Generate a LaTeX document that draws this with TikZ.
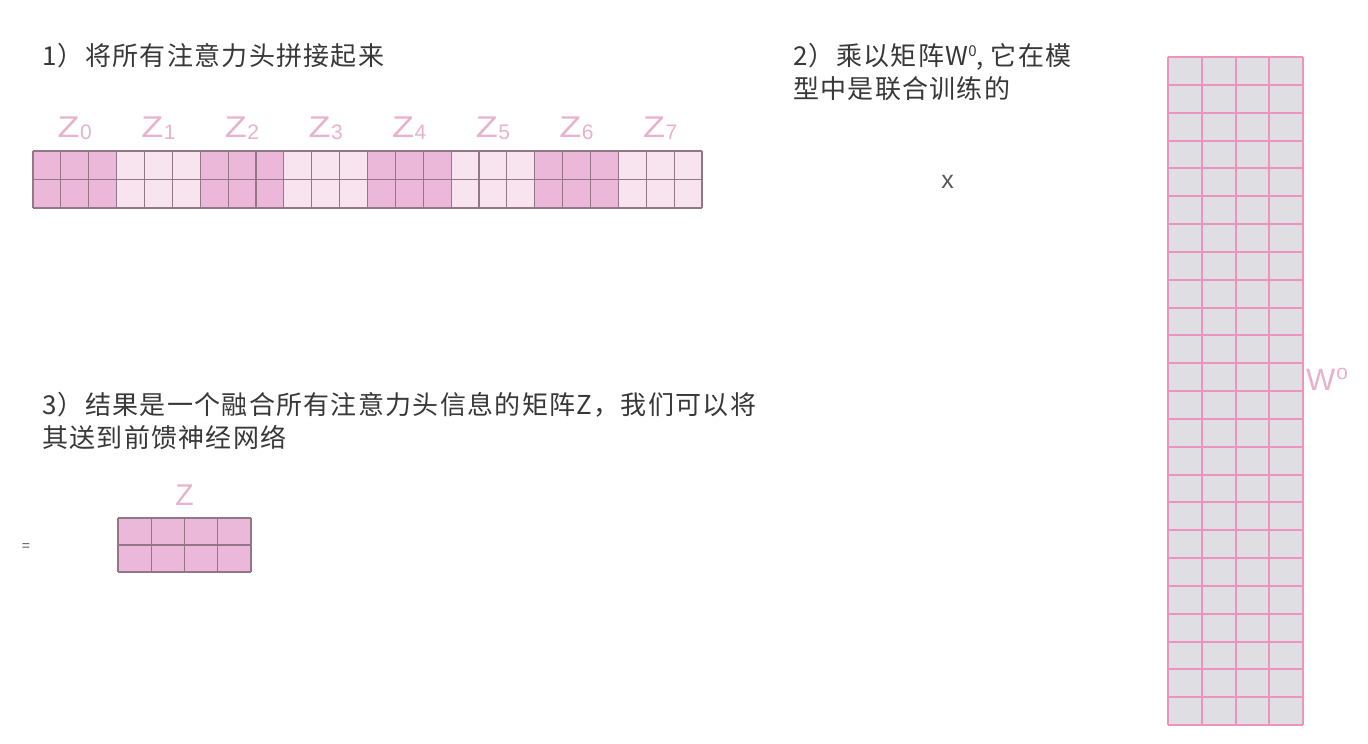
\documentclass[tikz,border=0pt]{standalone}
\usepackage{fontspec}
\setmainfont{Noto Sans CJK SC}
\newfontfamily\cjkfont[LetterSpace=5]{Noto Sans CJK SC}
\newfontfamily\latinfont{Liberation Sans}
\definecolor{zdark}{HTML}{ECB8D9}
\definecolor{zlight}{HTML}{F8E4EF}
\definecolor{zline}{HTML}{937786}
\definecolor{wcell}{HTML}{DFDFE3}
\definecolor{wline}{HTML}{EC93C0}
\definecolor{labpink}{HTML}{E8B1CD}
\definecolor{txtgray}{HTML}{383838}
\tikzset{
  caption/.style={anchor=base west, inner sep=0pt, text=txtgray, align=left,
    font=\cjkfont\fontsize{26}{32.5}\selectfont},
  zlabel/.style={anchor=base, inner sep=0pt, text=labpink,
    font=\latinfont\fontsize{30}{30}\selectfont},
  cellline/.style={draw=zline, line width=1.1pt},
  wgrid/.style={draw=wline, line width=2pt},
  opsign/.style={inner sep=0pt, text=black!65, font=\latinfont}
}
\newcommand{\zsub}[1]{\scalebox{1.2}[1]{Z}\kern0.5pt\raisebox{-2pt}{\fontsize{21}{21}\selectfont #1}}
\begin{document}
\begin{tikzpicture}[x=1pt,y=-1pt]
\useasboundingbox (0,0) rectangle (1368,744);
\fill[white] (0,0) rectangle (1368,744);

% captions (base anchor = baseline of the last line)
\node[caption] (c1) at (42,65) {1）将所有注意力头拼接起来};
\node[caption] (c2) at (793,98) {2）乘以矩阵W\raisebox{9pt}{\fontsize{15}{15}\selectfont 0}, 它在模\\型中是联合训练的};
\node[caption] (c3) at (42,447) {3）结果是一个融合所有注意力头信息的矩阵Z，我们可以将\\其送到前馈神经网络};

% concatenated heads: 24 columns x 2 rows
\foreach \i in {0,...,23}{
  \pgfmathtruncatemacro{\grp}{mod(int(\i/3),2)}
  \ifnum\grp=0\relax
    \fill[zdark] ({33+\i*27.875},151) rectangle ({33+(\i+1)*27.875},208);
  \else
    \fill[zlight] ({33+\i*27.875},151) rectangle ({33+(\i+1)*27.875},208);
  \fi
}
\foreach \g in {0,...,7}{
  \node[zlabel] (z\g) at ({33+(3*\g+1.5)*27.875},137) {\zsub{\g}};
}
\foreach \i in {0,...,24}{
  \draw[cellline] ({33+\i*27.875},151) -- ({33+\i*27.875},208);
}
\foreach \j in {0,1,2}{
  \draw[cellline] (33,{151+\j*28.5}) -- (702,{151+\j*28.5});
}

% multiplication sign
\node[opsign, anchor=base, font=\latinfont\fontsize{25}{25}\selectfont] (times) at (947.5,188) {x};

% W0 matrix: 4 columns x 24 rows
\fill[wcell] (1168,57) rectangle (1303,725);
\foreach \i in {0,...,4}{
  \draw[wgrid] ({1168+\i*33.75},57) -- ({1168+\i*33.75},725);
}
\foreach \j in {0,...,24}{
  \draw[wgrid] (1168,{57+\j*27.833}) -- (1303,{57+\j*27.833});
}
\node[zlabel, anchor=base west, font=\latinfont\fontsize{31}{31}\selectfont] (wlab) at (1306,390) {W\kern1pt\raisebox{11pt}{\fontsize{21}{21}\selectfont o}};

% equals sign
\node[opsign, font=\latinfont\fontsize{14}{14}\selectfont] (eq) at (26,547) {=};

% result Z: 4 columns x 2 rows
\fill[zdark] (118,518) rectangle (251,572);
\foreach \i in {0,...,4}{
  \draw[cellline] ({118+\i*33.25},518) -- ({118+\i*33.25},572);
}
\foreach \j in {0,1,2}{
  \draw[cellline] (118,{518+\j*27}) -- (251,{518+\j*27});
}
\node[zlabel] (zres) at (184.5,505) {Z};
\end{tikzpicture}
\end{document}
